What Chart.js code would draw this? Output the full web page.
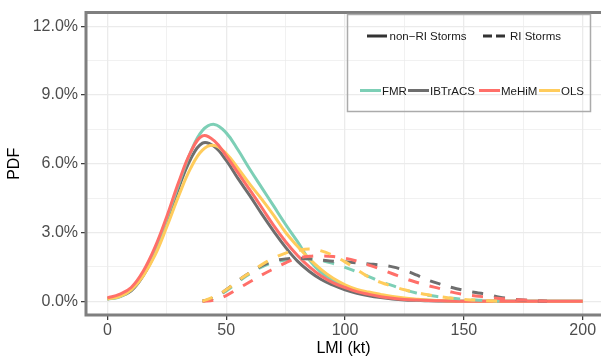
<!DOCTYPE html>
<html>
<head>
<meta charset="utf-8">
<script src="https://cdn.jsdelivr.net/npm/chart.js@4.4.1/dist/chart.umd.min.js"></script>
<style>
  body { margin: 0; background: #fff; }
  #lmiChart { display: block; }
</style>
</head>
<body>
<canvas id="lmiChart" width="601" height="359"></canvas>
<script>
// Model names and colours
const models = ["FMR", "IBTrACS", "MeHiM", "OLS"];
const modelColors = ["#7DCFB6", "#6E6E6E", "#FF6F69", "#FFCC5C"];

// LMI grid (kt) for the non-RI curves
const solidLmi = [0, 5, 10, 15, 20, 25, 30, 35, 40, 45, 50, 55, 60, 65, 70, 75, 80, 85, 90, 95,
    100, 105, 110, 115, 120, 125, 130, 135, 140, 145, 150, 200];

// non-RI storms PDF (%)
const fmrSolid = [0.1, 0.18, 0.5, 1.15, 2.2, 3.6, 5.1, 6.5, 7.45, 7.72, 7.35, 6.6, 5.75, 4.95, 4.15, 3.35,
    2.6, 1.8, 1.25, 0.92, 0.65, 0.46, 0.35, 0.25, 0.17, 0.11, 0.07, 0.04, 0.02, 0.01, 0, 0];
const ibtSolid = [0.1, 0.2, 0.45, 1.1, 2.1, 3.45, 4.95, 6.2, 6.9, 6.75, 6.15, 5.35, 4.6, 3.8, 3.05, 2.35,
    1.75, 1.3, 0.95, 0.7, 0.5, 0.35, 0.24, 0.16, 0.1, 0.06, 0.04, 0.02, 0.01, 0.005, 0, 0];
const mehimSolid = [0.15, 0.3, 0.6, 1.3, 2.35, 3.7, 5.2, 6.5, 7.22, 7.0, 6.35, 5.6, 4.85, 4.08, 3.3, 2.6,
    2.0, 1.5, 1.1, 0.8, 0.6, 0.42, 0.3, 0.2, 0.13, 0.08, 0.05, 0.03, 0.02, 0.01, 0, 0];
const olsSolid = [0.1, 0.2, 0.5, 1.1, 2.0, 3.25, 4.6, 5.8, 6.6, 6.8, 6.45, 5.8, 5.1, 4.45, 3.75, 3.0,
    2.4, 1.85, 1.38, 1.0, 0.72, 0.52, 0.4, 0.3, 0.21, 0.14, 0.09, 0.05, 0.03, 0.015, 0, 0];

// LMI grid (kt) for the RI curves
const riLmi = [40, 45, 50, 55, 60, 65, 70, 75, 80, 85, 90, 95, 100, 105, 110, 115, 120, 125, 130, 135,
    140, 145, 150, 155, 160, 165, 170, 175, 180, 185];

// RI storms PDF (%)
const fmrRI = [0, 0.15, 0.45, 0.85, 1.2, 1.5, 1.7, 1.8, 1.85, 1.85, 1.78, 1.65, 1.48, 1.28, 1.08, 0.85,
    0.68, 0.5, 0.36, 0.26, 0.19, 0.13, 0.09, 0.05, 0.03, 0, null, null, null, null];
const ibtRI = [0, 0.15, 0.5, 0.9, 1.25, 1.55, 1.75, 1.85, 1.88, 1.85, 1.8, 1.75, 1.72, 1.68, 1.63, 1.58,
    1.5, 1.35, 1.15, 0.92, 0.75, 0.6, 0.48, 0.38, 0.3, 0.18, 0.1, 0.05, 0.02, 0];
const mehimRI = [0, 0.05, 0.25, 0.55, 0.85, 1.15, 1.42, 1.68, 1.88, 1.96, 1.98, 1.95, 1.88, 1.75, 1.58, 1.4,
    1.2, 1.0, 0.83, 0.68, 0.55, 0.4, 0.3, 0.23, 0.18, 0.12, 0.08, 0.05, 0.02, 0];
const olsRI = [0, 0.2, 0.5, 0.9, 1.25, 1.6, 1.88, 2.1, 2.22, 2.28, 2.2, 2.0, 1.72, 1.38, 1.05, 0.82,
    0.65, 0.5, 0.38, 0.28, 0.2, 0.13, 0.08, 0.05, 0.02, 0, null, null, null, null];

// Axis ticks (every gridline, labels only on the major ones)
const xTicks = [0, 25, 50, 75, 100, 125, 150, 175, 200];
const yTicks = [0, 1.5, 3, 4.5, 6, 7.5, 9, 10.5, 12];

const FONT = '"Liberation Sans", Arial, Helvetica, sans-serif';

document.addEventListener("DOMContentLoaded", () => {
    renderLmiChart();
});

function toPoints(xs, ys) {
    return xs.map((x, i) => ({ x: x, y: ys[i] }));
}

function lineSet(label, color, xs, ys, dashed) {
    return {
        label: label,
        data: toPoints(xs, ys),
        borderColor: color,
        borderWidth: 3,
        borderDash: dashed ? [11, 11] : [],
        borderCapStyle: "butt",
        pointRadius: 0,
        tension: 0.4,
        fill: false,
        spanGaps: false,
    };
}

// Panel border: left, top and bottom (right edge is off the canvas)
const panelFrame = {
    id: "panelFrame",
    afterDatasetsDraw(chart) {
        const { ctx, chartArea: a } = chart;
        ctx.save();
        ctx.strokeStyle = "#7f7f7f";
        ctx.lineWidth = 3;
        ctx.beginPath();
        ctx.moveTo(a.right + 5, a.top);
        ctx.lineTo(a.left, a.top);
        ctx.lineTo(a.left, a.bottom);
        ctx.lineTo(a.right + 5, a.bottom);
        ctx.stroke();
        ctx.restore();
    },
};

// Legend box in the top right
const legendBox = {
    id: "legendBox",
    afterDraw(chart) {
        const ctx = chart.ctx;
        ctx.save();
        ctx.strokeStyle = "#ababab";
        ctx.lineWidth = 1.5;
        ctx.strokeRect(347.5, 14.5, 243, 97);

        ctx.font = "11.5px " + FONT;
        ctx.fillStyle = "#1a1a1a";
        ctx.textBaseline = "middle";
        ctx.lineWidth = 3;

        drawKey(ctx, 367, 387, 36, "#333333", []);
        ctx.fillText("non\u2212RI Storms", 389.5, 37);
        drawKey(ctx, 483, 505, 36, "#333333", [9, 4]);
        ctx.fillText("RI Storms", 510, 37);

        const keyX = [360, 408, 479, 539];
        models.forEach((name, i) => {
            drawKey(ctx, keyX[i], keyX[i] + 21, 90.5, modelColors[i], []);
            ctx.fillStyle = "#1a1a1a";
            ctx.fillText(name, keyX[i] + 22, 91.5);
        });
        ctx.restore();
    },
};

function drawKey(ctx, x1, x2, y, color, dash) {
    ctx.strokeStyle = color;
    ctx.setLineDash(dash);
    ctx.beginPath();
    ctx.moveTo(x1, y);
    ctx.lineTo(x2, y);
    ctx.stroke();
    ctx.setLineDash([]);
}

function renderLmiChart() {
    const ctx = document.getElementById("lmiChart").getContext("2d");

    // first dataset is drawn on top
    const datasets = [
        lineSet("OLS RI", modelColors[3], riLmi, olsRI, true),
        lineSet("MeHiM RI", modelColors[2], riLmi, mehimRI, true),
        lineSet("IBTrACS RI", modelColors[1], riLmi, ibtRI, true),
        lineSet("FMR RI", modelColors[0], riLmi, fmrRI, true),
        lineSet("MeHiM", modelColors[2], solidLmi, mehimSolid, false),
        lineSet("OLS", modelColors[3], solidLmi, olsSolid, false),
        lineSet("FMR", modelColors[0], solidLmi, fmrSolid, false),
        lineSet("IBTrACS", modelColors[1], solidLmi, ibtSolid, false),
    ];

    new Chart(ctx, {
        type: "line",
        data: { datasets: datasets },
        options: {
            responsive: false,
            animation: false,
            devicePixelRatio: 1,
            layout: { padding: { top: 6, left: 0, right: 0, bottom: 0 } },
            plugins: {
                legend: { display: false },
                tooltip: { enabled: false },
            },
            scales: {
                x: {
                    type: "linear",
                    min: -9,
                    max: 207.7,
                    afterBuildTicks: scale => {
                        scale.ticks = xTicks.map(v => ({ value: v }));
                    },
                    afterFit: scale => {
                        scale.height = 44;
                    },
                    border: { display: false },
                    grid: {
                        color: "#ebebeb",
                        lineWidth: c => (c.tick && c.tick.value % 50 === 0 ? 1.3 : 0.7),
                        tickLength: 5,
                        tickWidth: 1.2,
                        tickColor: c => (c.tick && c.tick.value % 50 === 0 ? "#333333" : "rgba(0,0,0,0)"),
                    },
                    ticks: {
                        autoSkip: false,
                        maxRotation: 0,
                        padding: 1,
                        color: "#4d4d4d",
                        font: { family: FONT, size: 16 },
                        callback: v => (v % 50 === 0 ? String(v) : ""),
                    },
                    title: {
                        display: true,
                        text: "LMI (kt)",
                        color: "#000000",
                        font: { family: FONT, size: 16 },
                        padding: { top: 0, bottom: 1 },
                    },
                },
                y: {
                    type: "linear",
                    min: -0.6,
                    max: 12.6,
                    afterBuildTicks: scale => {
                        scale.ticks = yTicks.map(v => ({ value: v }));
                    },
                    afterFit: scale => {
                        scale.width = 86;
                    },
                    border: { display: false },
                    grid: {
                        color: "#ebebeb",
                        lineWidth: c => (c.tick && c.tick.value % 3 === 0 ? 1.3 : 0.7),
                        tickLength: 5,
                        tickWidth: 1.2,
                        tickColor: c => (c.tick && c.tick.value % 3 === 0 ? "#333333" : "rgba(0,0,0,0)"),
                    },
                    ticks: {
                        autoSkip: false,
                        padding: 3,
                        color: "#4d4d4d",
                        font: { family: FONT, size: 16 },
                        callback: v => (v % 3 === 0 ? v.toFixed(1) + "%" : ""),
                    },
                    title: {
                        display: true,
                        text: "PDF",
                        color: "#000000",
                        font: { family: FONT, size: 16 },
                        padding: { top: 5, bottom: 0 },
                    },
                },
            },
        },
        plugins: [panelFrame, legendBox],
    });
}
</script>
</body>
</html>
